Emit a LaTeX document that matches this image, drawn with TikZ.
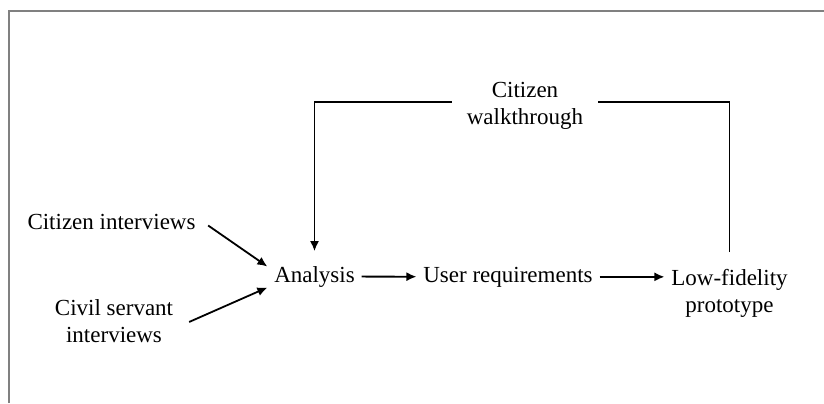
\documentclass[tikz,border=0pt]{standalone}
\usepackage{fontspec}
\setmainfont{Liberation Serif}
\usetikzlibrary{arrows.meta,positioning}
\begin{document}
\begin{tikzpicture}[x=0.5pt, y=-0.5pt, line width=0.9pt,
        box/.style = {inner sep=3pt, font=\fontsize{11.5}{13.5}\selectfont, align=center},
        arr/.style = {-{Latex[length=5pt,width=4.5pt]}}]
    \useasboundingbox (0,0) rectangle (824,403);
    \draw[black!50, line width=1pt] (9,403) -- (9,11) -- (824,11);
    \node[box, anchor=base] (citint) at (111.5,229) {Citizen interviews};
    \node[box] (civint) at (114,321) {Civil servant\\interviews};
    \node[box, anchor=base] (analysis) at (314.5,282) {Analysis};
    \node[box, anchor=base] (userreq) at (508,282) {User requirements};
    \node[box] (lowfid) at (729.5,293) {Low-fidelity\\prototype};
    \node[box, inner xsep=7pt] (walk) at (525,106) {Citizen\\walkthrough};
    \draw[arr, shorten <=3.5pt] (citint.east) -- ([yshift=5pt]analysis.west);
    \draw[arr, shorten <=5pt] ([yshift=-2.5pt]civint.east) -- ([yshift=-5.5pt]analysis.west);
    \draw[arr] (analysis) -- (userreq);
    \draw[arr] (userreq.east) -- (userreq.east -| lowfid.west);
    \draw[shorten <=5pt] (lowfid.north) |- ([yshift=2pt]walk.east);
    \draw[arr, shorten >=4pt] ([yshift=2pt]walk.west) -| (analysis.north);
\end{tikzpicture}
\end{document}
